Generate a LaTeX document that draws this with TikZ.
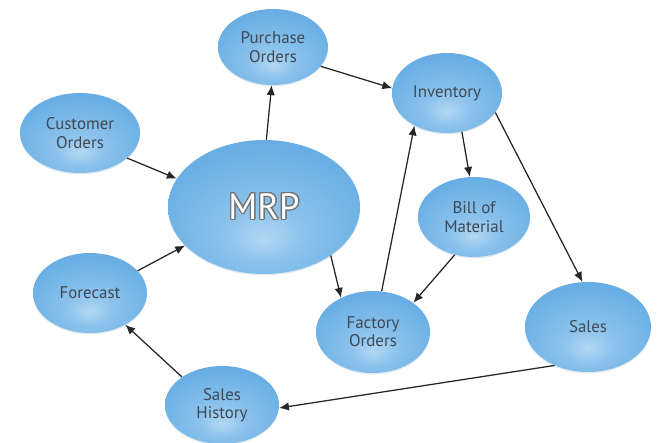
\documentclass[tikz,border=0pt]{standalone}
\usepackage{fontspec}
\setmainfont{PT Sans}
\usepackage{contour}
\usetikzlibrary{arrows.meta,shapes.geometric,shadows}
\definecolor{bubedge}{RGB}{52,135,205}
\definecolor{bubmid}{RGB}{110,178,230}
\definecolor{bubhi}{RGB}{178,215,243}
\definecolor{bubtext}{RGB}{62,72,84}
\pgfdeclareradialshading{bubble}{\pgfpoint{0bp}{-12bp}}{color(0bp)=(bubhi); color(10bp)=(bubmid!55!bubhi); color(26bp)=(bubmid); color(44bp)=(bubmid!60!bubedge); color(52bp)=(bubedge); color(70bp)=(bubedge)}
\tikzset{
  bub/.style={ellipse, inner sep=0pt, shading=bubble, align=center, text=bubtext,
    font=\fontsize{12}{13}\selectfont,
    drop shadow={shadow xshift=0pt, shadow yshift=-1pt, opacity=0.18, fill=bubedge!50!gray}},
  link/.style={draw=black!85, line width=0.9pt, -{Latex[length=7pt,width=6pt]}}
}
\contourlength{0.9pt}

\begin{document}
\begin{tikzpicture}
		%%%%% START %%%%%
		\useasboundingbox (0,0) rectangle (16.475,11.05);
		
		\node[bub, minimum width=4.8cm, minimum height=3.35cm] (mrp) at (6.6, 5.875) {\fontsize{26}{28}\selectfont\contour{black!55}{\textcolor{white}{MRP}}};
		\node[bub, minimum width=2.75cm, minimum height=1.9cm] (purch) at (6.825, 9.875) {Purchase\\Orders};
		\node[bub, minimum width=2.75cm, minimum height=2.0cm] (inv) at (11.175, 8.725) {Inventory};
		\node[bub, minimum width=3.0cm, minimum height=2.0cm] (cust) at (2.0, 7.725) {Customer\\Orders};
		\node[bub, minimum width=2.8cm, minimum height=2.0cm] (bom) at (11.85, 5.625) {Bill of\\Material};
		\node[bub, minimum width=2.85cm, minimum height=2.0cm] (fcast) at (2.25, 3.725) {Forecast};
		\node[bub, minimum width=2.85cm, minimum height=2.05cm] (fact) at (9.325, 2.75) {Factory\\Orders};
		\node[bub, minimum width=3.15cm, minimum height=2.25cm] (sales) at (14.7, 2.875) {Sales};
		\node[bub, minimum width=2.85cm, minimum height=1.95cm] (hist) at (5.55, 0.925) {Sales\\History};
		
		\draw[link] (mrp.88) -- (purch.268);
		\draw[link] (purch.-22) -- (inv.175);
		\draw[link] (cust.-28) -- (mrp.162);
		\draw[link] (fcast.25) -- (mrp.206);
		\draw[link] (hist.145) -- (fcast.-42);
		\draw[link] (sales.229) -- (hist.-3);
		\draw[link] (mrp.-36) -- (fact.133);
		\draw[link] (fact.78) -- (inv.225);
		\draw[link] (bom.243) -- (fact.36);
		\draw[link] (inv.291) -- (bom.96);
		\draw[link] (inv.-22) -- (sales.97);
		
		%%%%% END %%%%%
\end{tikzpicture}
\end{document}
